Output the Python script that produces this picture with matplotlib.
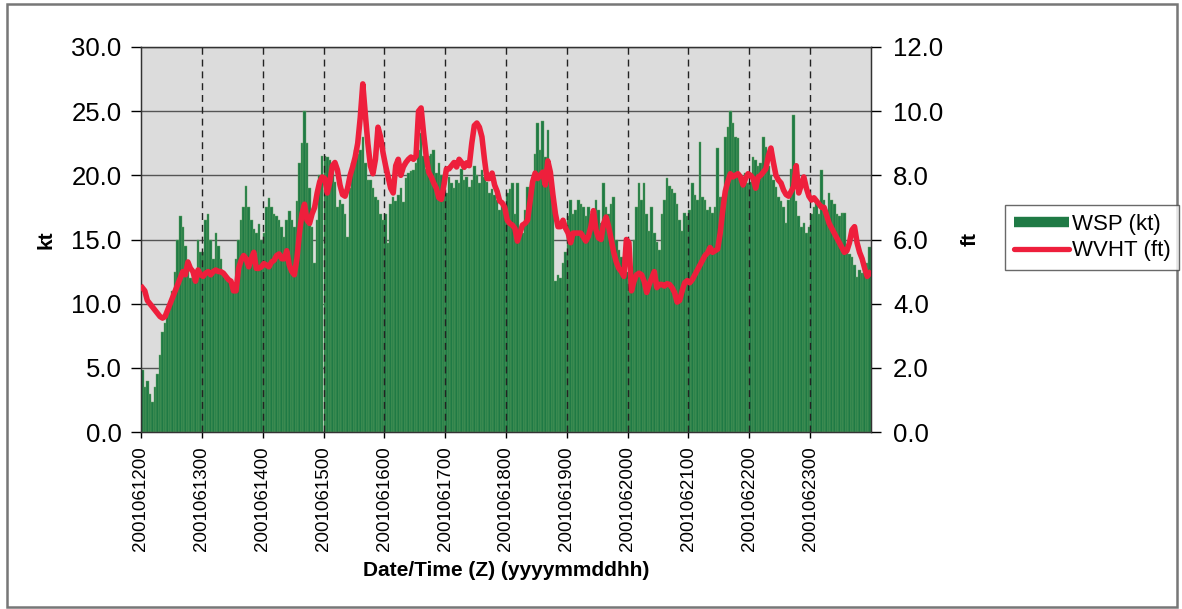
import numpy as np
import matplotlib
matplotlib.use("Agg")
import matplotlib.pyplot as plt
from matplotlib.lines import Line2D
from matplotlib.patches import Rectangle

plt.rcParams['font.family'] = ['Liberation Sans', 'DejaVu Sans']

# day labels (one tick per day, hourly data)
day_labels = ['2001061200', '2001061300', '2001061400', '2001061500',
              '2001061600', '2001061700', '2001061800', '2001061900',
              '2001062000', '2001062100', '2001062200', '2001062300']

# wind speed (kt), hourly, one row per day
wsp = [
    4.8, 3.5, 4.0, 3.0, 2.3, 3.5, 4.5, 6.0, 7.8, 8.5, 9.5, 10.2,
    11.0, 12.5, 15.0, 16.8, 16.0, 14.5, 13.0, 12.0, 12.5, 12.0, 15.0, 14.0,
    14.0, 16.5, 17.0, 15.0, 13.5, 15.5, 14.5, 13.5, 12.5, 12.0, 12.0, 11.8,
    11.5, 13.5, 15.0, 16.5, 17.5, 19.2, 17.5, 16.5, 15.8, 15.5, 16.2, 15.0,
    15.5, 17.5, 18.2, 17.5, 17.0, 16.8, 16.5, 16.0, 15.2, 16.5, 17.2, 16.5,
    16.0, 18.0, 21.0, 22.5, 25.0, 22.5, 19.0, 16.0, 13.2, 16.5, 20.0, 21.5,
    21.5, 21.4, 21.2, 20.5, 19.5, 17.5, 18.1, 17.8, 17.0, 15.2, 19.0, 21.0,
    22.0, 21.7, 22.0, 23.0, 21.0, 19.6, 19.6, 19.0, 18.3, 18.1, 17.0, 16.5,
    17.0, 14.7, 17.8, 18.3, 18.0, 18.5, 19.0, 17.9, 19.8, 20.2, 20.3, 20.4,
    21.0, 22.0, 23.3, 21.5, 20.5, 21.5, 21.7, 22.0, 20.2, 21.0, 20.0, 18.9,
    18.6, 19.9, 19.4, 19.0, 19.6, 19.4, 20.5, 19.6, 19.9, 19.1, 19.6, 20.7,
    20.0, 19.4, 20.4, 19.9, 19.5, 18.6, 18.9, 18.5, 18.1, 17.3, 17.8, 17.3,
    18.6, 18.9, 19.4, 17.0, 19.4, 15.7, 15.5, 17.3, 19.1, 19.0, 19.5, 21.7,
    24.1, 22.0, 24.2, 21.4, 23.5, 19.4, 18.1, 11.8, 12.2, 12.0, 13.2, 14.0,
    16.8, 18.1, 17.0, 17.3, 18.1, 17.8, 17.5, 16.8, 17.5, 17.0, 17.3, 18.1,
    17.3, 16.3, 19.4, 17.5, 17.0, 17.8, 18.3, 15.0, 14.2, 13.6, 13.6, 12.5,
    12.0, 11.1, 15.0, 17.5, 19.4, 18.1, 19.4, 17.0, 15.7, 17.5, 15.5, 14.8,
    14.2, 17.0, 18.1, 19.8, 19.2, 18.9, 18.6, 17.8, 16.5, 15.7, 17.1, 16.8,
    17.3, 19.4, 18.5, 18.1, 22.6, 18.3, 18.1, 17.3, 17.5, 17.1, 17.5, 22.1,
    18.3, 18.3, 23.0, 23.8, 25.0, 24.1, 23.0, 22.9, 19.9, 19.6, 20.2, 19.4,
    19.5, 21.4, 21.2, 20.7, 21.0, 23.0, 22.2, 20.7, 20.0, 19.6, 19.1, 18.3,
    18.0, 17.5, 16.3, 18.1, 20.5, 24.7, 18.0, 16.8, 16.0, 16.3, 15.5, 16.0,
    17.0, 17.5, 18.1, 17.0, 20.4, 18.1, 17.3, 18.6, 18.1, 17.8, 17.0, 16.8,
    17.1, 17.1, 14.4, 13.9, 13.6, 13.0, 12.1, 12.6, 12.4, 12.6, 13.2, 14.4,
]

# significant wave height (ft), hourly, one row per day
wvht = [
    4.5, 4.4, 4.1, 4.0, 3.9, 3.8, 3.7, 3.6, 3.55, 3.6, 3.8, 4.0,
    4.2, 4.4, 4.6, 4.8, 5.0, 4.9, 5.3, 5.1, 5.0, 4.7, 5.05, 4.9,
    4.85, 4.95, 5.0, 4.9, 5.0, 5.05, 5.0, 5.0, 4.95, 4.85, 4.75, 4.7,
    4.4, 4.4, 5.1, 5.35, 5.5, 5.4, 5.15, 5.4, 5.6, 5.1, 5.1, 5.15,
    5.25, 5.2, 5.15, 5.3, 5.35, 5.5, 5.55, 5.4, 5.4, 5.65, 5.2, 5.0,
    4.9, 5.4, 6.2, 6.8, 7.1, 6.6, 6.5, 6.8, 7.0, 7.45, 7.8, 7.95,
    7.9, 7.45, 7.8, 8.3, 8.4, 8.17, 7.7, 7.4, 7.35, 7.6, 8.0, 8.26,
    8.57, 9.0, 9.8, 10.85, 9.9, 9.0, 8.3, 8.05, 8.5, 9.5, 9.2, 8.7,
    8.3, 7.95, 7.6, 7.45, 8.3, 8.5, 8.0, 8.26, 8.4, 8.5, 8.57, 8.5,
    8.6, 10.0, 10.1, 9.3, 8.6, 8.1, 7.95, 7.76, 7.6, 7.3, 7.25, 7.7,
    8.2, 8.2, 8.3, 8.4, 8.26, 8.5, 8.4, 8.25, 8.39, 8.3, 9.0, 9.55,
    9.63, 9.5, 9.2, 8.5, 7.9, 7.9, 8.07, 7.7, 7.5, 7.2, 7.14, 7.0,
    6.6, 6.5, 6.45, 6.35, 5.95, 6.2, 6.45, 6.5, 6.6, 7.2, 7.8, 8.07,
    7.9, 8.0, 8.1, 7.7, 8.45, 8.1, 7.4, 6.8, 6.4, 6.4, 6.6, 6.35,
    6.2, 5.9, 6.2, 6.2, 6.2, 6.2, 6.08, 5.95, 6.1, 6.4, 6.9, 6.3,
    6.05, 6.0, 6.5, 6.7, 6.4, 6.0, 5.6, 5.3, 5.1, 5.0, 4.85, 6.0,
    5.9, 4.4, 4.7, 4.9, 4.95, 4.9, 4.7, 4.35, 4.6, 4.8, 5.0, 4.5,
    4.6, 4.6, 4.55, 4.62, 4.6, 4.5, 4.35, 4.05, 4.1, 4.4, 4.65, 4.72,
    4.65, 4.75, 4.9, 5.05, 5.2, 5.35, 5.5, 5.58, 5.75, 5.6, 5.65, 5.7,
    6.2, 6.9, 7.5, 7.8, 8.05, 7.95, 8.0, 8.05, 7.95, 7.7, 7.9, 8.05,
    8.0, 7.9, 7.6, 7.95, 8.0, 8.1, 8.2, 8.6, 8.85, 8.4, 8.0, 7.85,
    7.76, 7.54, 7.4, 7.35, 7.5, 7.65, 8.3, 7.45, 7.7, 7.95, 7.6, 7.35,
    7.23, 7.3, 7.2, 7.1, 7.0, 7.0, 6.75, 6.5, 6.35, 6.2, 6.05, 5.9,
    5.75, 5.6, 5.65, 5.9, 6.3, 6.4, 5.9, 5.6, 5.4, 5.1, 4.85, 4.95,
]

hours = np.arange(len(wsp))
day_ticks = np.arange(len(day_labels)) * 24

fig = plt.figure(figsize=(11.82, 6.09), dpi=100)
ax = fig.add_axes([141 / 1182, 1 - 432 / 609, 730 / 1182, 385 / 609])
ax.set_facecolor('#dcdcdc')

# bars
ax.bar(hours + 0.5, wsp, width=1.0, color='#1f7a45', edgecolor='#6aa866',
       linewidth=0.3, zorder=2)

ax.set_xlim(0, len(wsp))
ax.set_ylim(0, 30)
ax.set_yticks(np.arange(0, 31, 5))
ax.set_yticklabels([f'{v:.1f}' for v in np.arange(0, 31, 5)])
ax.yaxis.grid(True, color='#555555', linewidth=1.0, zorder=1)
ax.set_axisbelow(True)
for d in day_ticks[1:]:
    ax.axvline(d, color='#222222', linestyle=(0, (5, 3.5)), linewidth=1.0, zorder=3)

ax.set_xticks(day_ticks)
ax.set_xticklabels(day_labels, rotation=90, fontsize=13.5)
ax.tick_params(axis='x', direction='out', length=4, pad=6, width=1)
ax.tick_params(axis='y', direction='out', length=7, pad=7, labelsize=18.5, width=1)
ax.set_xlabel('Date/Time (Z) (yyyymmddhh)', fontsize=15, fontweight='bold')
ax.xaxis.set_label_coords(0.5, -0.335)
ax.set_ylabel('kt', fontsize=15, fontweight='bold')
ax.yaxis.set_label_coords(-0.117, 0.5)
for s in ax.spines.values():
    s.set_color('#333333')
    s.set_linewidth(1.0)

# wave height line on second axis
ax2 = ax.twinx()
ax2.plot(hours + 0.5, wvht, color='#ee1f3c', linewidth=4.0, solid_joinstyle='round',
         zorder=5)
ax2.set_ylim(0, 12)
ax2.set_yticks(np.arange(0, 13, 2))
ax2.set_yticklabels([f'{v:.1f}' for v in np.arange(0, 13, 2)])
ax2.tick_params(axis='y', direction='out', length=7, pad=9, labelsize=18.5, width=1)
ax2.set_ylabel('ft', fontsize=15, fontweight='bold')
ax2.yaxis.set_label_coords(1.123, 0.5)
for s in ax2.spines.values():
    s.set_color('#333333')

handles = [Line2D([], [], color='#1f7a45', linewidth=7.5, solid_capstyle='butt'),
           Line2D([], [], color='#ee1f3c', linewidth=3.8, solid_capstyle='round')]
leg = fig.legend(handles, ['WSP (kt)', 'WVHT (ft)'], loc='upper left',
                 bbox_to_anchor=(1005 / 1182, 1 - 205 / 609), fontsize=16,
                 frameon=True, fancybox=False, handlelength=2.5, handletextpad=0.1,
                 borderpad=0.4, labelspacing=0.25, borderaxespad=0)
leg.get_frame().set_edgecolor('#444444')
leg.get_frame().set_linewidth(1.0)

# outer chart frame
fig.add_artist(Rectangle((7 / 1182, 2 / 609), 1170 / 1182, 603 / 609,
                         transform=fig.transFigure, fill=False,
                         edgecolor='#777777', linewidth=1.8))

fig.savefig('out.png', dpi=100)
